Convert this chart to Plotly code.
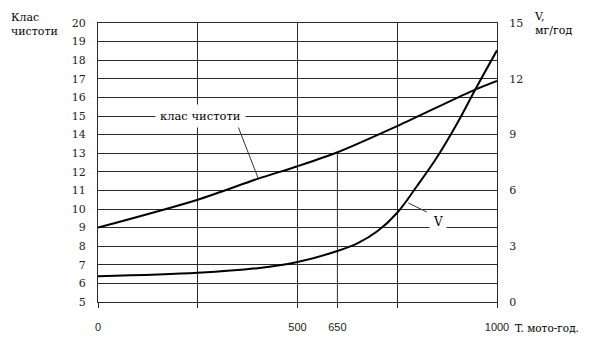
import plotly.graph_objects as go

# Data
T_CLASS = [0, 250, 400, 500, 600, 758, 937, 1000]
CLASS = [9.0, 10.5, 11.62, 12.3, 13.05, 14.54, 16.34, 16.88]

T_V = [0, 250, 400, 500, 600, 650, 700, 750, 800, 850, 900, 950, 1000]
V = [1.38, 1.57, 1.82, 2.15, 2.74, 3.15, 3.8, 4.8, 6.25, 7.8, 9.6, 11.6, 13.53]

X_TICK_POS = [0, 500, 600, 1000]
X_TICK_TEXT = ["0", "500", "650", "1000"]
X_GRID = [250, 500, 750]
LEFT_TICKS = list(range(5, 21))
RIGHT_TICKS = [0, 3, 6, 9, 12, 15]
MARK_IDX = 4  # the "650" marker point on the class curve

SERIF = "DejaVu Serif"
SANS = "Arial, Liberation Sans, sans-serif"
GRID = "#2a2a2a"

fig = go.Figure()
fig.add_trace(go.Scatter(x=T_CLASS, y=CLASS, mode="lines",
                         line=dict(color="black", width=2, shape="spline", smoothing=0.8),
                         showlegend=False, hoverinfo="skip"))
fig.add_trace(go.Scatter(x=T_V, y=V, mode="lines", yaxis="y2",
                         line=dict(color="black", width=2, shape="spline", smoothing=1),
                         showlegend=False, hoverinfo="skip"))

# vertical marker at "650"
fig.add_shape(type="line", xref="x", yref="y", x0=T_CLASS[MARK_IDX], x1=T_CLASS[MARK_IDX],
              y0=5, y1=CLASS[MARK_IDX], line=dict(color=GRID, width=1), layer="below")

# leader lines
fig.add_shape(type="line", xref="x", yref="y", x0=348, y0=14.6, x1=402, y1=11.62, line=dict(color="#333", width=1))
fig.add_shape(type="line", xref="x", yref="y", x0=778, y0=10.32, x1=824, y1=9.84, line=dict(color="#333", width=1))

fig.add_annotation(x=258, y=15, xref="x", yref="y", text="клас чистоти", showarrow=False,
                   font=dict(family=SERIF, size=11.5, color="black"), bgcolor="white", borderpad=4)
fig.add_annotation(x=853, y=9.3, xref="x", yref="y", text="V", showarrow=False,
                   font=dict(family=SERIF, size=12, color="black"), bgcolor="white", borderpad=3)

fig.add_annotation(x=-0.222, y=1.05, xref="paper", yref="paper", xanchor="left", yanchor="top",
                   text="Клас<br>чистоти", showarrow=False, align="left",
                   font=dict(family=SERIF, size=11, color="black"))
fig.add_annotation(x=1.087, y=1.055, xref="paper", yref="paper", xanchor="left", yanchor="top",
                   text="V,<br>мг/год", showarrow=False, align="left",
                   font=dict(family=SERIF, size=11, color="black"))
fig.add_annotation(x=1.04, y=-0.065, xref="paper", yref="paper", xanchor="left", yanchor="top",
                   text="T. мото-год.", showarrow=False, align="left",
                   font=dict(family=SERIF, size=10.5, color="black"))

# the page body has an 8px default margin, so the figure is drawn 8px smaller
fig.update_layout(
    width=584, height=330,
    margin=dict(l=90, r=95, t=15, b=36, autoexpand=False),
    paper_bgcolor="white", plot_bgcolor="white",
    xaxis=dict(range=[0, 1000], tickvals=X_TICK_POS, ticktext=X_TICK_TEXT, showgrid=False,
               ticks="outside", ticklen=5, tickcolor=GRID, showline=True, linecolor=GRID, mirror=True,
               tickfont=dict(family=SANS, size=11, color="#222"), ticklabelstandoff=10, zeroline=False,
               automargin=False,
               minor=dict(tickvals=X_GRID, showgrid=True, gridcolor=GRID, gridwidth=1,
                          ticks="outside", ticklen=5, tickcolor=GRID)),
    yaxis=dict(range=[5, 20], tickvals=LEFT_TICKS, showgrid=True, gridcolor=GRID, gridwidth=1,
               showline=True, linecolor=GRID, ticks="", zeroline=False, automargin=False,
               tickfont=dict(family=SERIF, size=11, color="#222"), ticklabelstandoff=9),
    yaxis2=dict(range=[0, 15], tickvals=RIGHT_TICKS, overlaying="y", side="right", showgrid=False,
                showline=True, linecolor=GRID, ticks="", zeroline=False, automargin=False,
                tickfont=dict(family=SERIF, size=11, color="#222"), ticklabelstandoff=9),
)

fig.write_html("out.html")
